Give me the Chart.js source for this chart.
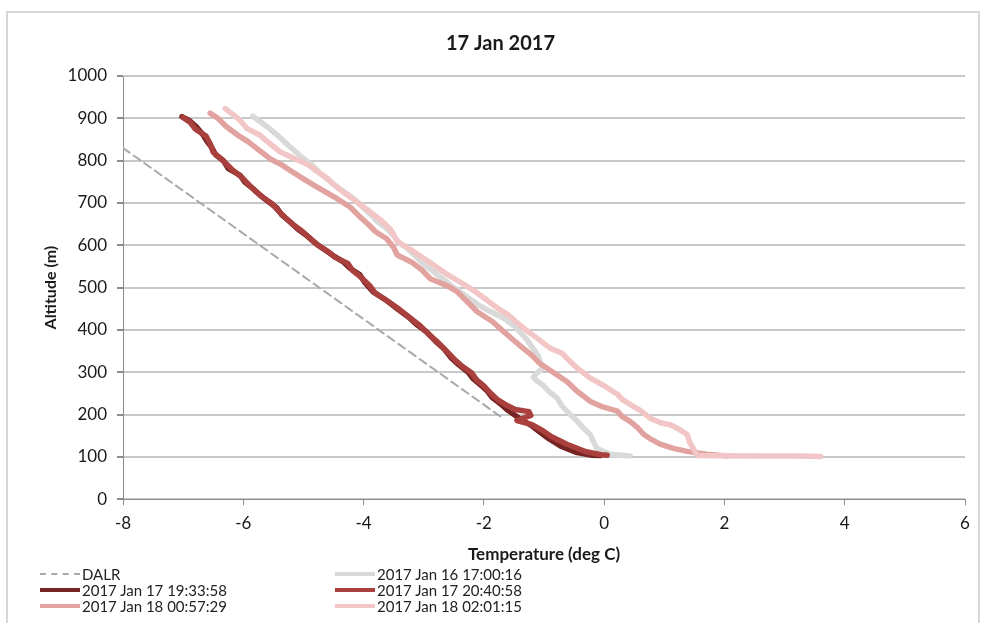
<!DOCTYPE html>
<html>
<head>
<meta charset="utf-8">
<title>17 Jan 2017</title>
<script src="https://cdn.jsdelivr.net/npm/chart.js@4.4.0/dist/chart.umd.min.js"></script>
<style>
    body { margin: 0; background: #fff; font-family: Lato, "Open Sans", sans-serif; }
    #frame { position: absolute; left: 6px; top: 11px; width: 970px; height: 640px; border: 2px solid #d6d6d6; }
    #wrap { position: absolute; left: 0; top: 0; width: 982px; height: 569px; }
    .item { position: absolute; font-size: 15px; color: #222; display: flex; align-items: center; white-space: nowrap; height: 16px; }
    .swatch { width: 40px; height: 0; margin-right: 2px; }
</style>
</head>
<body>
<div id="frame"></div>
<div id="wrap"><canvas id="profileChart" width="982" height="569"></canvas></div>
<div id="legend"></div>

<script>
// js/profile.js

// Dry adiabatic lapse rate reference
const dalrTemp = [-8, -1.72];
const dalrAlt = [830, 195];

// 2017 Jan 16 17:00:16
const jan16Temp = [-5.84, -5.7, -5.56, -5.44, -5.32, -5.2, -5.0, -4.86, -4.72, -4.56, -4.42, -4.26, -4.1, -3.98, -3.86, -3.77, -3.62, -3.5, -3.4, -3.25, -3.12, -3.0, -2.82, -2.66, -2.5, -2.3, -2.1, -1.9, -1.67, -1.5, -1.4, -1.3, -1.2, -1.1, -1.05, -1.02, -1.12, -1.18, -1.12, -1.02, -0.92, -0.78, -0.7, -0.57, -0.45, -0.36, -0.23, -0.18, -0.12, 0.1, 0.43];
const jan16Alt = [905, 890, 875, 861, 845, 830, 805, 790, 770, 751, 735, 720, 703, 685, 670, 656, 640, 622, 605, 590, 572, 554, 536, 518, 500, 480, 460, 444, 428, 410, 395, 380, 360, 340, 320, 310, 298, 288, 280, 270, 255, 239, 220, 201, 185, 170, 153, 136, 120, 106, 102];

// 2017 Jan 17 19:33:58
const jan17aTemp = [-7.02, -6.9, -6.78, -6.67, -6.6, -6.52, -6.46, -6.33, -6.25, -6.05, -5.98, -5.84, -5.72, -5.58, -5.44, -5.36, -5.22, -5.1, -4.92, -4.8, -4.67, -4.5, -4.33, -4.22, -4.06, -3.98, -3.84, -3.62, -3.44, -3.25, -3.11, -2.95, -2.8, -2.66, -2.55, -2.42, -2.26, -2.18, -2.06, -1.94, -1.86, -1.72, -1.6, -1.5, -1.4, -1.22, -1.08, -0.92, -0.72, -0.45, -0.2, -0.07];
const jan17aAlt = [904, 895, 880, 861, 845, 830, 814, 800, 781, 765, 750, 734, 718, 703, 688, 672, 655, 639, 620, 605, 592, 575, 560, 545, 530, 512, 490, 470, 450, 430, 412, 395, 373, 355, 335, 318, 300, 285, 271, 255, 240, 225, 210, 200, 190, 175, 160, 143, 125, 110, 104, 103];

// 2017 Jan 17 20:40:58
const jan17bTemp = [-7.0, -6.88, -6.8, -6.62, -6.55, -6.5, -6.4, -6.28, -6.18, -6.02, -5.9, -5.8, -5.66, -5.52, -5.42, -5.3, -5.18, -5.02, -4.88, -4.76, -4.6, -4.48, -4.26, -4.18, -4.04, -3.9, -3.8, -3.58, -3.4, -3.22, -3.06, -2.92, -2.76, -2.62, -2.5, -2.36, -2.2, -2.12, -2.0, -1.9, -1.78, -1.62, -1.48, -1.25, -1.22, -1.45, -1.2, -1.02, -0.88, -0.62, -0.3, -0.05, 0.05];
const jan17bAlt = [902, 890, 875, 858, 840, 820, 808, 792, 778, 760, 742, 728, 712, 698, 682, 665, 650, 633, 615, 600, 586, 572, 557, 540, 524, 505, 486, 466, 448, 428, 410, 390, 370, 350, 332, 314, 298, 282, 268, 252, 236, 222, 212, 207, 198, 186, 176, 162, 148, 130, 112, 105, 104];

// 2017 Jan 18 00:57:29
const jan18aTemp = [-6.55, -6.42, -6.28, -6.1, -5.92, -5.74, -5.55, -5.36, -5.2, -5.0, -4.8, -4.62, -4.44, -4.22, -4.08, -3.92, -3.8, -3.62, -3.5, -3.44, -3.2, -3.02, -2.89, -2.62, -2.45, -2.3, -2.11, -1.86, -1.67, -1.5, -1.34, -1.2, -1.08, -0.85, -0.62, -0.45, -0.23, -0.02, 0.22, 0.3, 0.43, 0.55, 0.66, 0.8, 0.93, 1.15, 1.38, 1.7, 2.05];
const jan18aAlt = [912, 900, 880, 861, 845, 825, 804, 790, 775, 757, 740, 725, 710, 690, 670, 649, 632, 616, 595, 577, 560, 540, 521, 505, 491, 470, 443, 420, 396, 375, 356, 340, 322, 300, 278, 255, 231, 218, 208, 195, 184, 170, 153, 140, 130, 120, 113, 106, 102];

// 2017 Jan 18 02:01:15
const jan18bTemp = [-6.3, -6.18, -6.05, -5.94, -5.72, -5.6, -5.39, -5.15, -4.92, -4.78, -4.6, -4.48, -4.34, -4.2, -4.05, -3.89, -3.72, -3.56, -3.5, -3.44, -3.22, -3.0, -2.8, -2.61, -2.42, -2.23, -2.0, -1.78, -1.6, -1.48, -1.3, -1.11, -0.9, -0.7, -0.62, -0.45, -0.23, 0.0, 0.22, 0.3, 0.43, 0.6, 0.77, 0.95, 1.1, 1.25, 1.38, 1.42, 1.48, 1.55, 2.5, 3.2, 3.6];
const jan18bAlt = [923, 910, 895, 876, 860, 845, 821, 805, 790, 775, 758, 742, 726, 712, 695, 679, 660, 639, 625, 609, 590, 569, 550, 531, 515, 499, 476, 452, 436, 421, 400, 380, 357, 345, 333, 310, 286, 268, 248, 236, 224, 210, 191, 180, 176, 165, 153, 135, 120, 103, 102, 102, 101];

const seriesLabels = ['DALR', '2017 Jan 16 17:00:16', '2017 Jan 17 19:33:58', '2017 Jan 17 20:40:58', '2017 Jan 18 00:57:29', '2017 Jan 18 02:01:15'];
const seriesTemps = [dalrTemp, jan16Temp, jan17aTemp, jan17bTemp, jan18aTemp, jan18bTemp];
const seriesAlts = [dalrAlt, jan16Alt, jan17aAlt, jan17bAlt, jan18aAlt, jan18bAlt];
const seriesColors = ['#a9a9a9', '#d9d9d9', '#772424', '#a9403d', '#e2a2a0', '#f2c6c6'];

const xTicks = [-8, -6, -4, -2, 0, 2, 4, 6];
const yTicks = [0, 100, 200, 300, 400, 500, 600, 700, 800, 900, 1000];

const FONT = 'Lato, "Open Sans", sans-serif';

const datasets = seriesLabels.map((label, i) => {
    const isDalr = i === 0;
    return {
        label: label,
        data: seriesTemps[i].map((t, k) => ({ x: t, y: seriesAlts[i][k] })),
        borderColor: seriesColors[i],
        backgroundColor: seriesColors[i],
        borderWidth: isDalr ? 2 : 5.5,
        borderDash: isDalr ? [8, 5] : [],
        borderJoinStyle: 'round',
        borderCapStyle: 'round',
        showLine: true,
        pointRadius: 0,
        tension: 0,
        order: seriesLabels.length - i // later series drawn on top, as in Excel
    };
});

new Chart(document.getElementById('profileChart').getContext('2d'), {
    type: 'scatter',
    data: { datasets: datasets },
    options: {
        responsive: false,
        animation: false,
        devicePixelRatio: 1,
        layout: { padding: { left: 36, right: 17, top: 0, bottom: 0 } },
        plugins: {
            legend: { display: false },
            tooltip: { enabled: false },
            title: {
                display: true,
                text: '17 Jan 2017',
                color: '#1a1a1a',
                font: { family: FONT, size: 20, weight: 'bold' },
                padding: { top: 32, bottom: 20 }
            }
        },
        scales: {
            x: {
                type: 'linear',
                min: xTicks[0],
                max: xTicks[xTicks.length - 1],
                afterBuildTicks: s => { s.ticks = xTicks.map(v => ({ value: v })); },
                ticks: { color: '#1a1a1a', font: { family: FONT, size: 17 }, padding: 8, callback: v => String(v) },
                grid: { drawOnChartArea: false, drawTicks: true, tickLength: 6, tickColor: '#8c8c8c' },
                border: { color: '#8c8c8c', width: 1 },
                title: {
                    display: true,
                    text: 'Temperature (deg C)',
                    color: '#1a1a1a',
                    font: { family: FONT, size: 17, weight: 'bold' },
                    padding: { top: 3, bottom: 4 }
                }
            },
            y: {
                min: yTicks[0],
                max: yTicks[yTicks.length - 1],
                afterBuildTicks: s => { s.ticks = yTicks.map(v => ({ value: v })); },
                afterFit: s => { s.width = 87; },
                ticks: { color: '#1a1a1a', font: { family: FONT, size: 17 }, padding: 10, callback: v => String(v) },
                grid: { color: '#c8c8c8', lineWidth: 2, tickLength: 6, tickColor: '#8c8c8c' },
                border: { color: '#8c8c8c', width: 1 },
                title: {
                    display: true,
                    text: 'Altitude (m)',
                    color: '#1a1a1a',
                    font: { family: FONT, size: 16, weight: 'bold' },
                    padding: { top: 5, bottom: 0 }
                }
            }
        }
    }
});

// Legend (two columns, filled row by row like the Excel original)
const legendCols = [40, 335];
const legendRows = [574, 590, 606];
const legend = document.getElementById('legend');
seriesLabels.forEach((label, i) => {
    const item = document.createElement('div');
    item.className = 'item';
    item.style.left = legendCols[i % 2] + 'px';
    item.style.top = (legendRows[Math.floor(i / 2)] - 8) + 'px';
    const sw = document.createElement('span');
    sw.className = 'swatch';
    sw.style.borderTop = i === 0 ? '2px dashed ' + seriesColors[i] : '4px solid ' + seriesColors[i];
    item.appendChild(sw);
    item.appendChild(document.createTextNode(label));
    legend.appendChild(item);
});
</script>
</body>
</html>
